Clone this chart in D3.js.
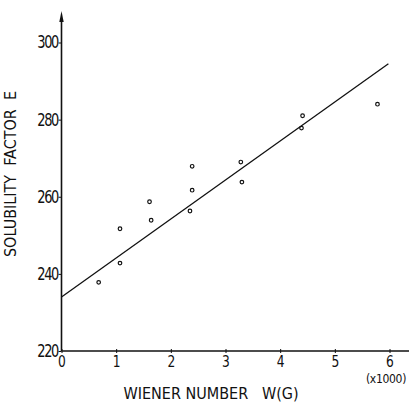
<!DOCTYPE html>
<html>
<head>
<meta charset="utf-8">
<script src="https://cdn.jsdelivr.net/npm/d3@7"></script>
<style>
  body { margin: 0; background: #fff; }
  text { font-family: "DejaVu Sans", sans-serif; font-stretch: condensed; fill: #111; }
</style>
</head>
<body>
<svg id="chart" width="410" height="402"></svg>
<script>
// data (x in thousands)
const wienerX = [0.68, 1.07, 1.07, 1.61, 1.64, 2.35, 2.39, 2.39, 3.28, 3.30, 4.41, 4.39, 5.78];
const solubilityY = [237.8, 251.7, 242.8, 258.7, 253.9, 256.3, 261.7, 267.9, 269.0, 263.8, 281.0, 277.8, 284.0];
const fitX = [0, 5.98];
const fitY = [234, 294.5];
const xTicks = [0, 1, 2, 3, 4, 5, 6];
const yTicks = [220, 240, 260, 280, 300];

const svg = d3.select('#chart');
const fontFam = '"DejaVu Sans", sans-serif';

/**
 * SCALES
 */
const x = d3.scaleLinear().domain([0, 6]).range([61.5, 389.5]);
const y = d3.scaleLinear().domain([220, 300]).range([351, 42.5]);

/**
 * AXES
 */
const gx = svg.append('g')
  .attr('transform', `translate(0,${y(220)})`)
  .call(d3.axisBottom(x).tickValues(xTicks).tickSize(3).tickPadding(2).tickFormat(d3.format('d')));
gx.select('.domain').remove();
gx.append('line').attr('x1', x(0)).attr('x2', 409).attr('stroke', '#111').attr('stroke-width', 1.4);
gx.selectAll('.tick line').attr('y1', -2).attr('y2', 2).attr('stroke', '#111');
gx.selectAll('.tick text').attr('font-size', 16).attr('fill', '#111')
  .attr('font-family', fontFam).style('font-stretch', 'condensed')
  .attr('transform', 'scale(0.85,1)');

const gy = svg.append('g')
  .attr('transform', `translate(${x(0)},0)`)
  .call(d3.axisLeft(y).tickValues(yTicks).tickSize(3).tickPadding(1));
gy.select('.domain').remove();
gy.append('line').attr('y1', y(220)).attr('y2', 20).attr('stroke', '#111').attr('stroke-width', 1.6);
gy.append('path').attr('d', 'M0,11 L-2.2,22 L2.2,22 Z').attr('fill', '#111');
gy.selectAll('.tick line').attr('stroke', '#111');
gy.selectAll('.tick text').attr('font-size', 17).attr('fill', '#111').attr('letter-spacing', -1.5)
  .attr('font-family', fontFam).style('font-stretch', 'condensed')
  .attr('transform', 'scale(0.85,1)');

/**
 * FIT LINE + POINTS
 */
const line = d3.line().x(d => x(d[0])).y(d => y(d[1]));
svg.append('path')
  .attr('d', line(d3.zip(fitX, fitY)))
  .attr('fill', 'none')
  .attr('stroke', '#111')
  .attr('stroke-width', 1.3);

svg.selectAll('circle.pt')
  .data(d3.zip(wienerX, solubilityY))
  .join('circle')
  .attr('class', 'pt')
  .attr('cx', d => x(d[0]))
  .attr('cy', d => y(d[1]))
  .attr('r', 1.8)
  .attr('fill', 'none')
  .attr('stroke', '#111')
  .attr('stroke-width', 1.2);

/**
 * TITLES
 */
svg.append('text')
  .attr('x', 211).attr('y', 399)
  .attr('text-anchor', 'middle')
  .attr('font-size', 16)
  .attr('xml:space', 'preserve')
  .text('WIENER NUMBER   W(G)');

svg.append('text')
  .attr('x', 386).attr('y', 383)
  .attr('text-anchor', 'middle')
  .attr('font-size', 12)
  .attr('letter-spacing', -0.3)
  .text('(x1000)');

svg.append('text')
  .attr('transform', 'translate(16,174) rotate(-90)')
  .attr('text-anchor', 'middle')
  .attr('font-size', 16)
  .attr('xml:space', 'preserve')
  .text('SOLUBILITY  FACTOR  E');
</script>
</body>
</html>
